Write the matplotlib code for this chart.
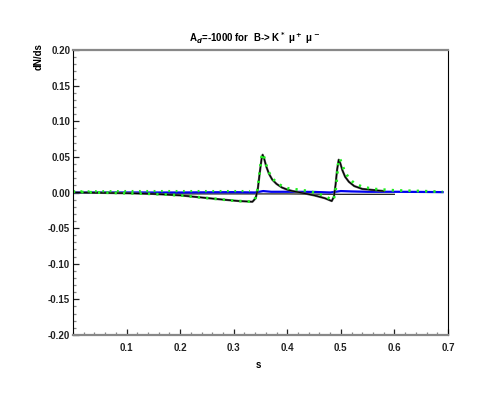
import numpy as np
import matplotlib.pyplot as plt
from matplotlib.ticker import MultipleLocator

# main resonance curve (black)
s_main = [0.0, 0.05, 0.10, 0.15, 0.20, 0.24, 0.28, 0.31, 0.335, 0.341, 0.345,
          0.349, 0.352, 0.354, 0.357, 0.361, 0.366, 0.372, 0.38, 0.39, 0.40,
          0.41, 0.42, 0.43, 0.45, 0.47, 0.483, 0.487, 0.490, 0.493, 0.496,
          0.499, 0.503, 0.508, 0.515, 0.525, 0.54, 0.56, 0.58]
dn_main = [0.0, -0.0005, -0.001, -0.002, -0.004, -0.007, -0.010, -0.012, -0.013,
           -0.008, 0.005, 0.030, 0.047, 0.053, 0.047, 0.036, 0.026, 0.018, 0.012,
           0.007, 0.004, 0.002, 0.0005, -0.001, -0.004, -0.008, -0.012, -0.006,
           0.010, 0.032, 0.046, 0.041, 0.031, 0.022, 0.015, 0.009, 0.005, 0.0035, 0.002]

# second model (green dotted)
s_green = [0.0, 0.05, 0.10, 0.15, 0.20, 0.24, 0.28, 0.31, 0.335, 0.341, 0.345,
           0.349, 0.352, 0.354, 0.357, 0.361, 0.366, 0.372, 0.38, 0.39, 0.40,
           0.42, 0.44, 0.46, 0.475, 0.485, 0.489, 0.492, 0.495, 0.498, 0.502,
           0.507, 0.515, 0.525, 0.54, 0.56, 0.60, 0.65, 0.69]
dn_green = [0.001, 0.0, -0.001, -0.002, -0.004, -0.007, -0.010, -0.012, -0.013,
            -0.007, 0.006, 0.032, 0.050, 0.055, 0.049, 0.038, 0.028, 0.020, 0.014,
            0.009, 0.006, 0.004, 0.002, -0.002, -0.007, -0.011, -0.004, 0.015,
            0.040, 0.048, 0.040, 0.030, 0.020, 0.013, 0.008, 0.005, 0.003, 0.002, 0.001]

# flat green dotted
s_green2 = [0.0, 0.10, 0.20, 0.30, 0.33]
dn_green2 = [0.0015, 0.002, 0.002, 0.002, 0.002]

# near-zero curve (blue)
s_blue = [0.0, 0.10, 0.20, 0.30, 0.34, 0.355, 0.37, 0.40, 0.45, 0.48, 0.50, 0.52,
          0.55, 0.60, 0.65, 0.69]
dn_blue = [0.0, 0.0, 0.0, 0.0005, 0.0, 0.002, 0.001, 0.001, 0.0008, 0.0, 0.002,
           0.0015, 0.001, 0.001, 0.0008, 0.0005]

# baseline (thin black)
s_base = [0.0, 0.14, 0.141, 0.40, 0.50, 0.60]
dn_base = [0.0, 0.0, -0.002, -0.002, -0.0025, -0.0025]

plt.rcParams['font.family'] = ['Liberation Sans', 'DejaVu Sans']
plt.rcParams['font.weight'] = 'bold'

fig = plt.figure(figsize=(4.85, 4.01), dpi=100)
ax = fig.add_axes([0.1505, 0.1646, 0.7732, 0.7107])

ax.plot(s_base, dn_base, color='black', lw=0.8)
ax.plot(s_blue, dn_blue, color='#0000ee', lw=1.6)
ax.plot(s_main, dn_main, color='#555555', lw=1.6)
ax.plot(s_main, dn_main, color='black', lw=0.8)
ax.plot(s_green, dn_green, color='#22ee22', lw=2.0, ls=(0, (0.8, 2.2)))
ax.plot(s_green2, dn_green2, color='#22ee22', lw=1.6, ls=(0, (0.8, 2.5)))

ax.set_xlim(0, 0.7)
ax.set_ylim(-0.2, 0.2)
ax.set_xticks([0.1, 0.2, 0.3, 0.4, 0.5, 0.6, 0.7])
ax.set_xticklabels(['0.1', '0.2', '0.3', '0.4', '0.5', '0.6', '0.7'])
ax.xaxis.set_minor_locator(MultipleLocator(0.02))
ax.set_yticks(np.arange(-0.2, 0.201, 0.05))
ax.set_yticklabels(['-0.20', '-0.15', '-0.10', '-0.05', '0.00', '0.05', '0.10', '0.15', '0.20'])
ax.yaxis.set_minor_locator(MultipleLocator(0.01))

ax.tick_params(which='both', direction='in', labelsize=7, colors='#222222')
ax.tick_params(which='major', length=4, width=0.9)
ax.tick_params(which='minor', length=2.5, width=0.9, color='#888888')
ax.tick_params(axis='x', pad=6)
ax.tick_params(axis='y', pad=2)
for lab in ax.get_xticklabels() + ax.get_yticklabels():
    lab.set_fontweight('bold')

ax.spines['top'].set_color('#888888')
ax.spines['bottom'].set_color('#888888')
ax.spines['top'].set_linewidth(1.6)
ax.spines['bottom'].set_linewidth(1.6)
ax.spines['left'].set_color('black')
ax.spines['right'].set_color('black')

fig.text(0.525, 0.905, r'A$_d$=-1000 for  B-> K$^*$ μ$^+$ μ$^-$',
         ha='center', va='center', fontsize=7, fontweight='bold')
fig.text(0.079, 0.86, 'dN/ds', rotation=90, ha='center', va='center',
         fontsize=7, fontweight='bold')
fig.text(0.532, 0.09, 's', ha='center', va='center', fontsize=7, fontweight='bold')

fig.savefig('out.png', dpi=100)
